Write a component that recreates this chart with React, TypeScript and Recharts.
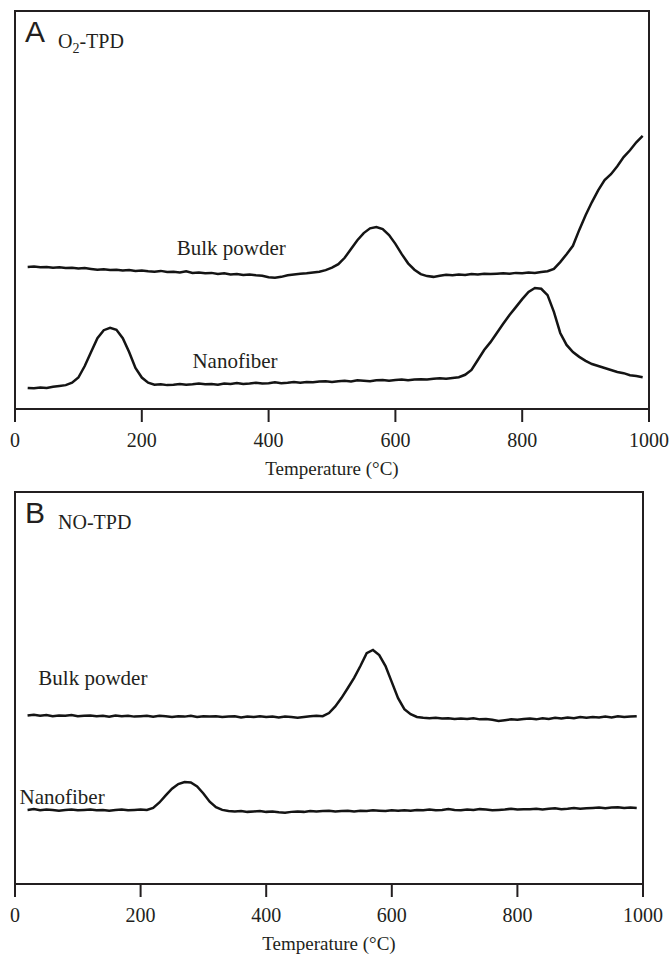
import { useMemo } from 'react';
import { LineChart, Line, XAxis, YAxis, ReferenceArea, ReferenceDot } from 'recharts';

const INK = '#231f20';
const SERIF = 'Liberation Serif';
const SANS = 'Liberation Sans';

const X_TICKS = [0, 200, 400, 600, 800, 1000];

// temperature grid (°C), shared by all four traces
const TEMPS = [
  20, 30, 40, 50, 60, 70, 80, 90, 100, 110,
  120, 130, 140, 150, 160, 170, 180, 190, 200, 210,
  220, 230, 240, 250, 260, 270, 280, 290, 300, 310,
  320, 330, 340, 350, 360, 370, 380, 390, 400, 410,
  420, 430, 440, 450, 460, 470, 480, 490, 500, 510,
  520, 530, 540, 550, 560, 570, 580, 590, 600, 610,
  620, 630, 640, 650, 660, 670, 680, 690, 700, 710,
  720, 730, 740, 750, 760, 770, 780, 790, 800, 810,
  820, 830, 840, 850, 860, 870, 880, 890, 900, 910,
  920, 930, 940, 950, 960, 970, 980, 990,
];

// A: O2-TPD signal (a.u.)
const O2_BULK = [
  35.7, 35.8, 35.6, 35.7, 35.5, 35.6, 35.4, 35.5, 35.3, 35.4,
  35.2, 35.0, 35.1, 34.9, 35.0, 34.8, 34.9, 34.7, 34.8, 34.6,
  34.5, 34.7, 34.4, 34.5, 34.3, 34.6, 34.2, 34.3, 34.1, 34.2,
  33.9, 34.1, 33.8, 33.9, 33.7, 33.8, 33.6, 33.5, 33.1, 33.0,
  33.2, 33.6, 33.8, 34.0, 34.1, 34.3, 34.5, 34.9, 35.5, 36.4,
  38.0, 40.2, 42.4, 44.2, 45.4, 45.7, 45.2, 43.7, 41.5, 38.9,
  36.6, 35.0, 33.9, 33.4, 33.2, 33.5, 33.7, 33.6, 33.8, 33.7,
  33.9, 33.8, 34.0, 33.9, 34.0, 34.1, 34.0, 34.2, 34.1, 34.3,
  34.2, 34.4, 34.6, 35.2, 36.9, 38.9, 41.0, 45.0, 48.7, 52.0,
  55.0, 57.5, 59.0, 61.0, 63.3, 65.0, 67.0, 68.6,
];

const O2_NANO = [
  5.3, 5.2, 5.4, 5.3, 5.6, 5.8, 6.0, 6.6, 7.9, 10.8,
  14.3, 17.8, 19.8, 20.4, 19.9, 17.8, 14.3, 10.3, 7.9, 6.6,
  6.1, 6.2, 6.0, 6.1, 6.3, 6.1, 6.2, 6.4, 6.2, 6.3,
  6.1, 6.4, 6.3, 6.5, 6.3, 6.4, 6.6, 6.4, 6.5, 6.7,
  6.5, 6.6, 6.8, 6.6, 6.8, 6.7, 6.9, 7.0, 6.8, 7.0,
  7.1, 6.9, 7.2, 7.1, 7.0, 7.2, 7.3, 7.1, 7.3, 7.4,
  7.2, 7.4, 7.5, 7.4, 7.6, 7.7, 7.6, 7.8, 8.0, 8.6,
  9.8, 12.3, 14.8, 16.8, 19.1, 21.4, 23.6, 25.6, 27.6, 29.4,
  30.4, 30.2, 28.6, 24.4, 19.1, 16.1, 14.3, 13.1, 12.1, 11.3,
  10.8, 10.3, 9.8, 9.3, 9.0, 8.5, 8.3, 8.0,
];

// B: NO-TPD signal (a.u.)
const NO_BULK = [
  43.0, 43.2, 42.9, 43.1, 42.8, 43.0, 42.9, 43.1, 42.8, 42.9,
  43.0, 42.8, 42.9, 42.7, 43.0, 42.8, 42.9, 42.7, 42.8, 42.9,
  42.7, 42.9, 42.8, 42.6, 42.8, 42.7, 42.9, 42.6, 42.8, 42.7,
  42.8, 42.6, 42.7, 42.8, 42.5, 42.7, 42.6, 42.8, 42.6, 42.7,
  42.5, 42.7, 42.6, 42.4, 42.6, 42.8, 42.9, 42.8, 43.6, 45.3,
  47.5, 50.0, 52.6, 55.6, 58.9, 59.7, 58.4, 55.6, 51.5, 47.4,
  44.6, 43.3, 42.6, 42.4, 42.3, 42.4, 42.2, 42.3, 42.1, 42.2,
  42.1, 42.3, 42.0, 42.1, 41.9, 41.6, 41.8, 42.0, 41.9, 42.1,
  42.2, 42.0, 42.3, 42.1, 42.4, 42.2, 42.5, 42.3, 42.6, 42.4,
  42.6, 42.5, 42.7, 42.5, 42.8, 42.6, 42.7, 42.8,
];

const NO_NANO = [
  18.9, 19.1, 18.8, 19.0, 18.9, 18.7, 18.9, 19.0, 18.8, 18.9,
  19.0, 18.8, 18.9, 18.7, 18.9, 19.0, 18.8, 18.9, 19.0, 18.9,
  19.4, 20.8, 22.6, 24.3, 25.5, 26.0, 25.9, 24.9, 23.1, 21.0,
  19.6, 18.9, 18.6, 18.5, 18.6, 18.4, 18.5, 18.6, 18.4, 18.5,
  18.3, 18.2, 18.4, 18.5, 18.4, 18.6, 18.5, 18.6, 18.7, 18.5,
  18.6, 18.7, 18.5, 18.7, 18.6, 18.8, 18.7, 18.6, 18.8, 18.7,
  18.8, 18.7, 18.9, 18.8, 19.0, 18.8, 18.9, 19.1, 18.9, 18.8,
  19.0, 18.9, 19.1, 19.0, 18.8, 18.9, 19.0, 19.2, 19.0, 19.1,
  19.1, 19.2, 19.0, 19.2, 19.3, 19.1, 19.2, 19.4, 19.2, 19.3,
  19.4, 19.5, 19.3, 19.5, 19.6, 19.4, 19.5, 19.4,
];

interface TagProps {
  viewBox?: any;
  letter: string;
  gas: string;
  sub?: string;
}

function PanelTag({ viewBox, letter, gas, sub }: TagProps) {
  const { x, y } = viewBox;
  return (
    <g>
      <text x={x + 10} y={y + 31} fontFamily={SANS} fontSize={30} fill={INK}>
        {letter}
      </text>
      <text x={x + 43} y={y + 37} fontFamily={SERIF} fontSize={20} fill={INK}>
        {gas}
        {sub ? (
          <>
            <tspan fontSize={14} dy={5}>{sub}</tspan>
            <tspan dy={-5}>-TPD</tspan>
          </>
        ) : (
          '-TPD'
        )}
      </text>
    </g>
  );
}

function AxisTitle(p: any) {
  const vb = p.viewBox;
  return (
    <text x={vb.x + vb.width / 2} y={vb.y + 66} textAnchor="middle" fontFamily={SERIF} fontSize={19} fill={INK}>
      Temperature (°C)
    </text>
  );
}

interface PanelProps {
  height: number;
  axisHeight: number;
  margin: { top: number; right: number; bottom: number; left: number };
  bulk: number[];
  nano: number[];
  letter: string;
  gas: string;
  sub?: string;
  bulkAt: [number, number];
  nanoAt: [number, number];
}

function Panel({ height, axisHeight, margin, bulk, nano, letter, gas, sub, bulkAt, nanoAt }: PanelProps) {
  const data = useMemo(
    () => TEMPS.map((t, i) => ({ t, bulk: bulk[i], nano: nano[i] })),
    [bulk, nano]
  );
  const textStyle = { fill: INK, fontSize: 21, fontFamily: SERIF };

  return (
    <LineChart width={671} height={height} data={data} margin={margin}>
      <XAxis
        dataKey="t"
        type="number"
        domain={[0, 1000]}
        ticks={X_TICKS}
        interval={0}
        height={axisHeight}
        tickSize={13}
        tickMargin={11}
        axisLine={{ stroke: INK, strokeWidth: 2 }}
        tickLine={{ stroke: INK, strokeWidth: 2 }}
        tick={{ fill: INK, fontSize: 20, fontFamily: SERIF }}
        label={{ content: AxisTitle }}
      />
      <YAxis hide domain={[0, 100]} />
      <ReferenceArea
        x1={0}
        x2={1000}
        y1={0}
        y2={100}
        fill="none"
        stroke={INK}
        strokeWidth={2}
        ifOverflow="visible"
        label={{ content: (p: any) => <PanelTag viewBox={p.viewBox} letter={letter} gas={gas} sub={sub} /> }}
      />
      <Line type="linear" dataKey="bulk" stroke="#141414" strokeWidth={2.5} dot={false} isAnimationActive={false} />
      <Line type="linear" dataKey="nano" stroke="#141414" strokeWidth={2.5} dot={false} isAnimationActive={false} />
      <ReferenceDot
        x={bulkAt[0]}
        y={bulkAt[1]}
        r={0}
        fill="none"
        stroke="none"
        label={{ value: 'Bulk powder', position: 'center', ...textStyle }}
      />
      <ReferenceDot
        x={nanoAt[0]}
        y={nanoAt[1]}
        r={0}
        fill="none"
        stroke="none"
        label={{ value: 'Nanofiber', position: 'center', ...textStyle }}
      />
    </LineChart>
  );
}

export default function App() {
  return (
    <div style={{ position: 'absolute', left: 0, top: 0, width: 671, height: 956, background: '#fff' }}>
      <div style={{ position: 'absolute', left: 0, top: 0 }}>
        <Panel
          height={490}
          axisHeight={81}
          margin={{ top: 11, right: 22, bottom: 0, left: 15 }}
          bulk={O2_BULK}
          nano={O2_NANO}
          letter="A"
          gas="O"
          sub="2"
          bulkAt={[341, 40.5]}
          nanoAt={[347, 12.3]}
        />
      </div>
      <div style={{ position: 'absolute', left: 0, top: 490 }}>
        <Panel
          height={466}
          axisHeight={72}
          margin={{ top: 2, right: 28, bottom: 0, left: 15 }}
          bulk={NO_BULK}
          nano={NO_NANO}
          letter="B"
          gas="NO"
          bulkAt={[124, 52.6]}
          nanoAt={[75, 22.2]}
        />
      </div>
    </div>
  );
}
